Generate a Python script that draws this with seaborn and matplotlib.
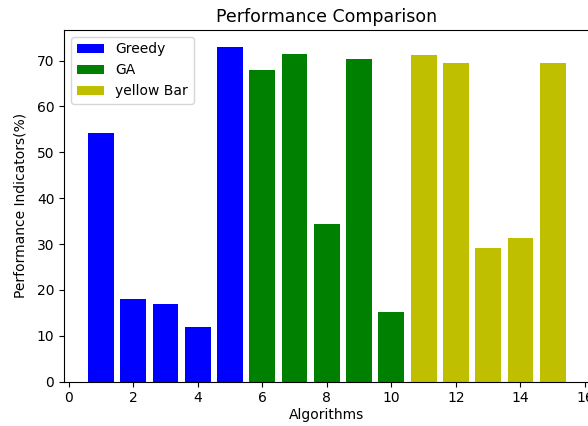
"""Bar chart comparing performance indicators of the algorithms."""
import matplotlib
matplotlib.use("Agg")
import matplotlib.pyplot as plt
import pandas as pd
import seaborn as sns

ALGORITHMS = list(range(1, 16))
GROUPS = ["Greedy"] * 5 + ["GA"] * 5 + ["yellow Bar"] * 5
PERFORMANCE = [54.1, 18.0, 17.0, 12.0, 73.0,
               68.0, 71.5, 34.4, 70.3, 15.1,
               71.3, 69.4, 29.1, 31.3, 69.4]
PALETTE = {"Greedy": "b", "GA": "g", "yellow Bar": "y"}


def main():
    data = pd.DataFrame({
        "algorithm": ALGORITHMS,
        "group": GROUPS,
        "performance": PERFORMANCE,
    })

    fig = plt.figure(figsize=(5.88, 4.26), dpi=100)
    ax = fig.add_subplot(111)
    fig.subplots_adjust(left=0.109, right=1.0025, bottom=0.104, top=0.9296)
    sns.barplot(
        data=data,
        x="algorithm",
        y="performance",
        hue="group",
        palette=PALETTE,
        native_scale=True,
        dodge=False,
        width=0.8,
        saturation=1,
        ax=ax
    )
    ax.set_xlim(-0.14, 16.14)
    ax.set_xticks(range(0, 17, 2))
    ax.set_xlabel("Algorithms", labelpad=2)
    ax.set_ylabel("Performance Indicators(%)", labelpad=7)
    ax.set_title("Performance Comparison", fontsize=12.5)
    ax.legend(loc="upper left")
    fig.savefig("out.png", dpi=100)


if __name__ == "__main__":
    main()
